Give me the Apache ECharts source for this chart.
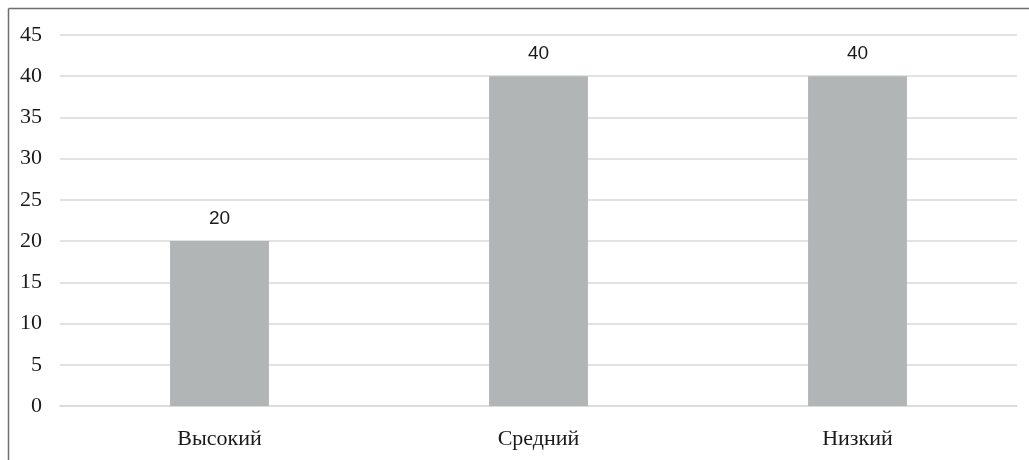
<!DOCTYPE html>
<html><head><meta charset="utf-8">
<script src="https://cdn.jsdelivr.net/npm/echarts@6/dist/echarts.min.js"></script>
<style>html,body{margin:0;padding:0;background:#fff}#c{width:1029px;height:460px}</style>
</head><body><div id="c"></div>
<script>
const categories = ['Высокий', 'Средний', 'Низкий'];
const values = [20, 40, 40];
const yTicks = {min: 0, max: 45, interval: 5};

const chart = echarts.init(document.getElementById('c'));
const font = '"Liberation Serif", "DejaVu Serif", serif';
const labelFont = '"Liberation Sans", Arial, sans-serif';
chart.setOption({
  animation: false,
  grid: {left: 60, right: 12, top: 35, bottom: 54, containLabel: false},
  graphic: [
    {type: 'line', shape: {x1: 8.5, y1: 8.5, x2: 1029, y2: 8.5}, style: {stroke: '#6e6e6e', lineWidth: 1.5}},
    {type: 'line', shape: {x1: 8.5, y1: 8.5, x2: 8.5, y2: 460}, style: {stroke: '#6e6e6e', lineWidth: 1.5}}
  ],
  xAxis: {
    type: 'category', data: categories,
    axisLine: {show: true, lineStyle: {color: '#d9d9d9', width: 1.5}},
    axisTick: {show: false},
    axisLabel: {color: '#1a1a1a', fontFamily: font, fontSize: 22, margin: 22}
  },
  yAxis: {
    type: 'value', min: yTicks.min, max: yTicks.max, interval: yTicks.interval,
    axisLine: {show: false}, axisTick: {show: false},
    splitLine: {lineStyle: {color: '#d9d9d9', width: 1.5}},
    axisLabel: {color: '#1a1a1a', fontFamily: font, fontSize: 22, margin: 18}
  },
  series: [{
    type: 'bar', data: values, barWidth: '31%',
    itemStyle: {color: '#b2b5b5'},
    label: {show: true, position: 'top', distance: 13, color: '#1a1a1a', fontFamily: labelFont, fontSize: 19}
  }]
});
</script></body></html>
